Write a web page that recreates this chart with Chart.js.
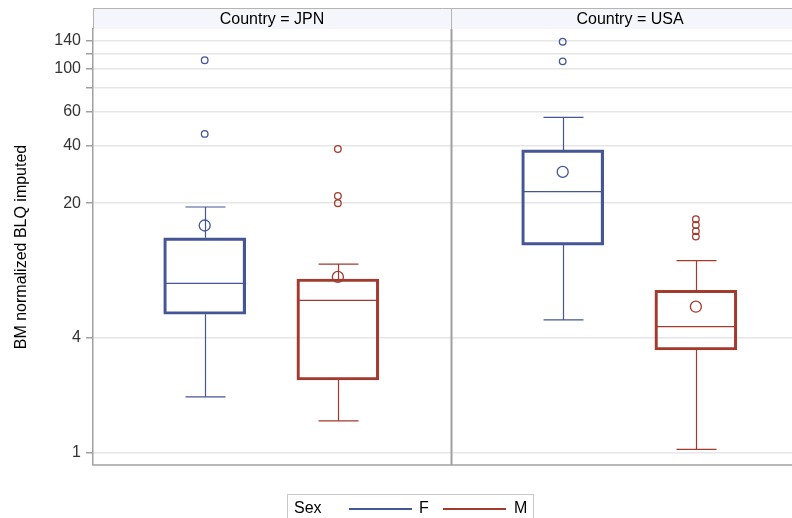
<!DOCTYPE html>
<html>
<head>
<meta charset="utf-8">
<script src="https://cdn.jsdelivr.net/npm/chart.js@4.4.1/dist/chart.umd.min.js"></script>
<style>
    html, body { margin: 0; padding: 0; background: #fff; overflow: hidden; }
    #wrap { position: relative; width: 792px; height: 518px; }
    #legend { position: absolute; left: 287px; top: 494px; width: 247px; height: 32px; border: 1px solid #c8c8c8;
              box-sizing: border-box; font-family: 'Liberation Sans', Arial, sans-serif; font-size: 16px; color: #000; }
    #legend span { position: absolute; top: 4px; }
    #legend i { position: absolute; top: 13px; height: 2px; display: block; }
</style>
</head>
<body>
<div id="wrap">
    <canvas id="boxCanvas" width="792" height="518"></canvas>
    <div id="legend">
        <span style="left:6px">Sex</span>
        <i style="left:61px;width:63px;background:#445694"></i>
        <span style="left:131px">F</span>
        <i style="left:155px;width:63px;background:#a23a2e"></i>
        <span style="left:226px">M</span>
    </div>
</div>
<script>
    const panels = ['JPN', 'USA'];
    const sexes = ['F', 'M'];

    // Female
    const fMin = [1.96, 4.93];
    const fQ1 = [5.28, 12.1];
    const fMed = [7.65, 23.0];
    const fQ3 = [13.2, 37.9];
    const fMax = [19.1, 56.0];
    const fMean = [15.3, 29.1];
    const fOut = [[111, 45.9], [138.7, 109.6]];

    // Male
    const mMin = [1.47, 1.045];
    const mQ1 = [2.40, 3.44];
    const mMed = [6.24, 4.55];
    const mQ3 = [8.06, 7.04];
    const mMax = [9.64, 10.04];
    const mMean = [8.26, 5.78];
    const mOut = [[38.3, 21.8, 20.0], [16.5, 15.4, 14.3, 13.4]];

    const yTicks = [1, 4, 20, 40, 60, 80, 100, 120, 140];
    const yLabels = [1, 4, 20, 40, 60, 100, 140];

    const BLUE = '#445694';
    const RED = '#a23a2e';
    const FONT = "'Liberation Sans', Arial, sans-serif";
    const slot = [0.312, 0.684];   // place of F / M inside a panel

    const stats = [
        { color: BLUE, min: fMin, q1: fQ1, med: fMed, q3: fQ3, max: fMax, mean: fMean, out: fOut },
        { color: RED, min: mMin, q1: mQ1, med: mMed, q3: mQ3, max: mMax, mean: mMean, out: mOut }
    ];

    const datasets = [];
    stats.forEach((s, si) => {
        datasets.push({
            type: 'bar',
            label: sexes[si],
            data: panels.map((p, pi) => ({ x: pi + slot[si], y: [s.q1[pi], s.q3[pi]] })),
            backgroundColor: 'rgba(255,255,255,0)',
            borderColor: s.color,
            borderWidth: 2.5,
            borderSkipped: false,
            barThickness: 82,
            grouped: false
        });
        const outPts = [];
        panels.forEach((p, pi) => s.out[pi].forEach(v => outPts.push({ x: pi + slot[si], y: v })));
        datasets.push({
            type: 'scatter', data: outPts, pointStyle: 'circle', pointRadius: 3.3,
            borderColor: s.color, backgroundColor: 'rgba(0,0,0,0)', borderWidth: 1.3
        });
        datasets.push({
            type: 'scatter', data: panels.map((p, pi) => ({ x: pi + slot[si], y: s.mean[pi] })),
            pointStyle: 'circle', pointRadius: 5.5,
            borderColor: s.color, backgroundColor: 'rgba(0,0,0,0)', borderWidth: 1.3
        });
    });

    // whiskers, medians, panel frame and header strips
    const panelPlugin = {
        id: 'panelPlugin',
        beforeDatasetsDraw(chart) {
            const { ctx, chartArea: a, scales: { x } } = chart;
            ctx.save();
            ctx.strokeStyle = '#a0a0a0';
            ctx.lineWidth = 2;
            const xd = Math.round(x.getPixelForValue(1)) + 0.5;
            ctx.beginPath();
            ctx.moveTo(xd, a.top); ctx.lineTo(xd, a.bottom);
            ctx.stroke();
            ctx.lineWidth = 1.5;
            ctx.beginPath();
            ctx.moveTo(a.left, a.bottom); ctx.lineTo(a.right, a.bottom);
            ctx.stroke();
            ctx.restore();
        },
        afterDatasetsDraw(chart) {
            const { ctx, scales: { x, y } } = chart;
            ctx.save();
            stats.forEach((s, si) => {
                ctx.strokeStyle = s.color;
                ctx.lineWidth = 1.2;
                panels.forEach((p, pi) => {
                    const cx = Math.round(x.getPixelForValue(pi + slot[si])) + 0.5;
                    const yMax = y.getPixelForValue(s.max[pi]);
                    const yMin = y.getPixelForValue(s.min[pi]);
                    const yQ1 = y.getPixelForValue(s.q1[pi]);
                    const yQ3 = y.getPixelForValue(s.q3[pi]);
                    const yMed = y.getPixelForValue(s.med[pi]);
                    ctx.beginPath();
                    ctx.moveTo(cx, yQ3); ctx.lineTo(cx, yMax);
                    ctx.moveTo(cx, yQ1); ctx.lineTo(cx, yMin);
                    ctx.moveTo(cx - 20, yMax); ctx.lineTo(cx + 20, yMax);
                    ctx.moveTo(cx - 20, yMin); ctx.lineTo(cx + 20, yMin);
                    ctx.moveTo(cx - 40, yMed); ctx.lineTo(cx + 40, yMed);
                    ctx.stroke();
                });
            });
            ctx.restore();
        },
        afterDraw(chart) {
            const { ctx, chartArea: a, scales: { x } } = chart;
            ctx.save();
            const top = 8.5, h = a.top - 8.5;
            ctx.fillStyle = '#f5f6fb';
            ctx.fillRect(a.left, top, a.right - a.left, h);
            ctx.strokeStyle = '#b4b4b4';
            ctx.lineWidth = 1;
            ctx.beginPath();
            ctx.moveTo(a.left, top); ctx.lineTo(a.right, top);
            ctx.moveTo(a.left + 0.5, top); ctx.lineTo(a.left + 0.5, a.top);
            const xd = Math.round(x.getPixelForValue(1)) + 0.5;
            ctx.moveTo(xd, top); ctx.lineTo(xd, a.top);
            ctx.stroke();
            ctx.fillStyle = '#000';
            ctx.font = '16px ' + FONT;
            ctx.textAlign = 'center';
            ctx.textBaseline = 'middle';
            panels.forEach((p, pi) => {
                ctx.fillText('Country = ' + p, x.getPixelForValue(pi + 0.5), top + h / 2 + 1);
            });
            ctx.restore();
        }
    };

    const ctx = document.getElementById('boxCanvas').getContext('2d');
    new Chart(ctx, {
        data: { datasets: datasets },
        plugins: [panelPlugin],
        options: {
            responsive: false,
            animation: false,
            layout: { autoPadding: false, padding: { left: 0, right: 0, top: 29, bottom: 53 } },
            plugins: { legend: { display: false }, tooltip: { enabled: false } },
            scales: {
                x: { type: 'linear', min: 0, max: 699 / 358, offset: false, display: false },
                y: {
                    type: 'logarithmic',
                    min: 0.866,
                    max: 161.5,
                    afterBuildTicks: function (s) { s.ticks = yTicks.map(v => ({ value: v })); },
                    afterFit: function (s) { s.width = 93; },
                    ticks: {
                        autoSkip: false,
                        color: '#333',
                        padding: 5,
                        font: { family: FONT, size: 16 },
                        callback: function (v) { return yLabels.includes(v) ? String(v) : ''; }
                    },
                    grid: { color: '#e6e6e6', lineWidth: 1.5, tickColor: '#a0a0a0', tickLength: 7 },
                    border: { color: '#a0a0a0', width: 1.5 },
                    title: {
                        display: true,
                        text: 'BM normalized BLQ imputed',
                        color: '#000',
                        font: { family: FONT, size: 16 },
                        padding: { top: 12, bottom: 0 }
                    }
                }
            }
        }
    });
</script>
</body>
</html>
